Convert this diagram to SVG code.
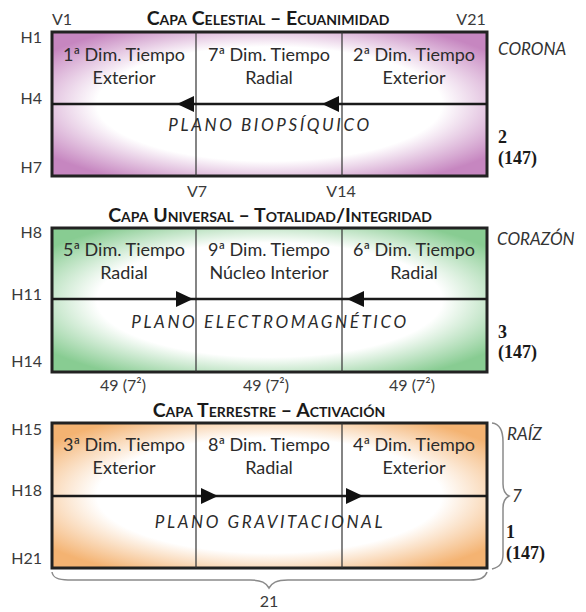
<svg xmlns="http://www.w3.org/2000/svg" xmlns:xlink="http://www.w3.org/1999/xlink" width="586" height="612" viewBox="0 0 586 612">
<style>
text{font-family:Lato,"Open Sans","Noto Sans",sans-serif;fill:#2b2b2b}
.cell{font-size:18px;text-anchor:middle}
.plano{font-size:17px;font-style:italic;letter-spacing:2.6px;text-anchor:middle}
.title{font-size:19.5px;font-weight:bold;font-variant:small-caps;text-anchor:middle;fill:#1a1a1a}
.labr{font-size:16px;text-anchor:end;fill:#3a3a3a}
.labm{font-size:16px;text-anchor:middle;fill:#3a3a3a}
.side{font-size:17px;font-style:italic;fill:#333}
.num{font-family:"Liberation Serif",serif;font-size:18px;font-weight:bold;fill:#1a1a1a}
.frame{stroke:#222;stroke-width:3}
.div{stroke:#333;stroke-width:1.2}
.flow{stroke:#1a1a1a;stroke-width:2.6}
.head{fill:#111}
.brace{fill:none;stroke:#8a8a8a;stroke-width:1.5}
</style>
<defs>
<radialGradient id="gPink" cx="50%" cy="50%" r="62%">
<stop offset="0" stop-color="#ffffff"/><stop offset="0.64" stop-color="#ffffff"/><stop offset="1" stop-color="#c686c0"/>
</radialGradient>
<radialGradient id="gGreen" cx="50%" cy="50%" r="62%">
<stop offset="0" stop-color="#ffffff"/><stop offset="0.64" stop-color="#ffffff"/><stop offset="1" stop-color="#88cc92"/>
</radialGradient>
<radialGradient id="gOrange" cx="50%" cy="50%" r="62%">
<stop offset="0" stop-color="#ffffff"/><stop offset="0.64" stop-color="#ffffff"/><stop offset="1" stop-color="#f4b372"/>
</radialGradient>
<path id="tri" class="head" d="M0,0 L-17,-8 L-17,8 Z"/>
</defs>

<g id="layer-celestial">
<rect x="52" y="32" width="435" height="144" fill="url(#gPink)" class="frame"/>
<line x1="196" y1="32" x2="196" y2="176" class="div"/>
<line x1="342" y1="32" x2="342" y2="176" class="div"/>
<text x="268" y="25" class="title">Capa Celestial – Ecuanimidad</text>
<g id="cell-1"><text x="124" y="61" class="cell">1ª Dim. Tiempo</text><text x="124" y="84" class="cell">Exterior</text></g>
<g id="cell-7"><text x="269" y="61" class="cell">7ª Dim. Tiempo</text><text x="269" y="84" class="cell">Radial</text></g>
<g id="cell-2"><text x="414" y="61" class="cell">2ª Dim. Tiempo</text><text x="414" y="84" class="cell">Exterior</text></g>
<text x="270" y="131" class="plano">PLANO BIOPSÍQUICO</text>
</g>

<g id="layer-universal">
<rect x="52" y="228" width="435" height="144" fill="url(#gGreen)" class="frame"/>
<line x1="196" y1="228" x2="196" y2="372" class="div"/>
<line x1="342" y1="228" x2="342" y2="372" class="div"/>
<text x="270" y="222" class="title">Capa Universal – Totalidad/Integridad</text>
<g id="cell-5"><text x="124" y="256" class="cell">5ª Dim. Tiempo</text><text x="124" y="279" class="cell">Radial</text></g>
<g id="cell-9"><text x="269" y="256" class="cell">9ª Dim. Tiempo</text><text x="269" y="279" class="cell">Núcleo Interior</text></g>
<g id="cell-6"><text x="414" y="256" class="cell">6ª Dim. Tiempo</text><text x="414" y="279" class="cell">Radial</text></g>
<text x="270" y="328" class="plano">PLANO ELECTROMAGNÉTICO</text>
</g>

<g id="layer-terrestre">
<rect x="52" y="423" width="435" height="145" fill="url(#gOrange)" class="frame"/>
<line x1="196" y1="423" x2="196" y2="568" class="div"/>
<line x1="342" y1="423" x2="342" y2="568" class="div"/>
<text x="269" y="417" class="title">Capa Terrestre – Activación</text>
<g id="cell-3"><text x="124" y="451" class="cell">3ª Dim. Tiempo</text><text x="124" y="474" class="cell">Exterior</text></g>
<g id="cell-8"><text x="269" y="451" class="cell">8ª Dim. Tiempo</text><text x="269" y="474" class="cell">Radial</text></g>
<g id="cell-4"><text x="414" y="451" class="cell">4ª Dim. Tiempo</text><text x="414" y="474" class="cell">Exterior</text></g>
<text x="270" y="528" class="plano">PLANO GRAVITACIONAL</text>
</g>

<g id="connectors">
<line x1="52" y1="104" x2="487" y2="104" class="flow"/>
<use xlink:href="#tri" transform="translate(177,104) rotate(180)"/>
<use xlink:href="#tri" transform="translate(322,104) rotate(180)"/>
<line x1="52" y1="299" x2="487" y2="299" class="flow"/>
<use xlink:href="#tri" transform="translate(193,299)"/>
<use xlink:href="#tri" transform="translate(347,299) rotate(180)"/>
<line x1="52" y1="496" x2="487" y2="496" class="flow"/>
<use xlink:href="#tri" transform="translate(218,496)"/>
<use xlink:href="#tri" transform="translate(363,496)"/>
</g>

<g id="labels">
<text x="62" y="25" class="labm">V1</text>
<text x="471" y="25" class="labm">V21</text>
<text x="197" y="197" class="labm">V7</text>
<text x="341" y="197" class="labm">V14</text>
<text x="42" y="43" class="labr">H1</text>
<text x="42" y="104" class="labr">H4</text>
<text x="42" y="173" class="labr">H7</text>
<text x="42" y="238" class="labr">H8</text>
<text x="42" y="300" class="labr">H11</text>
<text x="42" y="367" class="labr">H14</text>
<text x="42" y="435" class="labr">H15</text>
<text x="42" y="496" class="labr">H18</text>
<text x="42" y="564" class="labr">H21</text>
<text x="123" y="391" class="labm">49 (7²)</text>
<text x="266" y="391" class="labm">49 (7²)</text>
<text x="412" y="391" class="labm">49 (7²)</text>
<text x="498" y="55" class="side">CORONA</text>
<text x="497" y="245" class="side">CORAZÓN</text>
<text x="507" y="440" class="side">RAÍZ</text>
<text x="498" y="143" class="num">2</text>
<text x="498" y="164" class="num">(147)</text>
<text x="498" y="338" class="num">3</text>
<text x="498" y="358" class="num">(147)</text>
<text x="506" y="538" class="num">1</text>
<text x="506" y="559" class="num">(147)</text>
<text x="512" y="502" class="side">7</text>
<text x="269" y="607" class="labm">21</text>
</g>

<g id="braces">
<path class="brace" d="M492,423 C501,424 503,432 503,442 L503,484 C503,491 505,494 509,496 C505,498 503,501 503,508 L503,554 C503,563 500,567 492,569"/>
<path class="brace" d="M52,572 C53,578 58,580 68,580 L250,580 C262,580 266,583 269,588 C272,583 276,580 288,580 L470,580 C480,580 485,578 487,572"/>
</g>
</svg>
